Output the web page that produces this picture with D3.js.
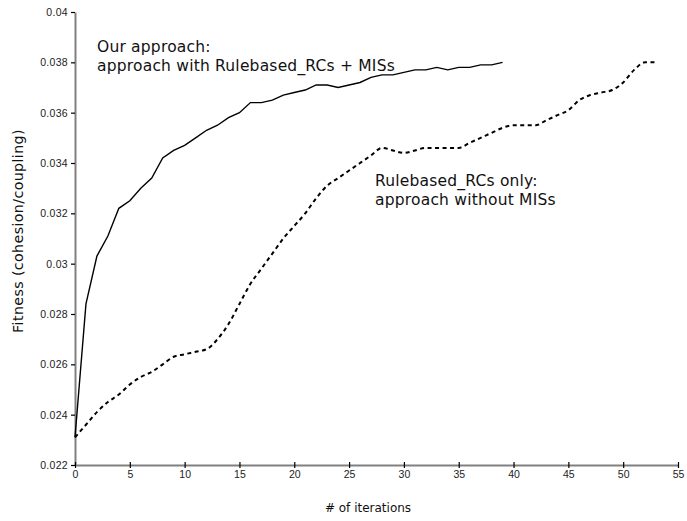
<!DOCTYPE html>
<html>
<head>
<meta charset="utf-8">
<script src="https://cdn.jsdelivr.net/npm/d3@7"></script>
<style>
  html, body { margin: 0; padding: 0; background: #fff; }
  svg { display: block; font-family: "DejaVu Sans", sans-serif; }
</style>
</head>
<body>
<svg id="chart" width="687" height="521"></svg>
<script>
// Fitness per iteration, "Our approach" (Rulebased_RCs + MISs)
const withMISs = [
  0.0231, 0.0284, 0.0303, 0.0311, 0.0322, 0.0325, 0.0330, 0.0334, 0.0342, 0.0345,
  0.0347, 0.0350, 0.0353, 0.0355, 0.0358, 0.0360, 0.0364, 0.0364, 0.0365, 0.0367,
  0.0368, 0.0369, 0.0371, 0.0371, 0.0370, 0.0371, 0.0372, 0.0374, 0.0375, 0.0375,
  0.0376, 0.0377, 0.0377, 0.0378, 0.0377, 0.0378, 0.0378, 0.0379, 0.0379, 0.0380
];
// Fitness per iteration, Rulebased_RCs only (without MISs)
const rulebasedOnly = [
  0.0231, 0.0236, 0.0241, 0.0245, 0.0248, 0.0252, 0.0255, 0.0257, 0.0260, 0.0263,
  0.0264, 0.0265, 0.0266, 0.0270, 0.0276, 0.0284, 0.0292, 0.0298, 0.0304, 0.0310,
  0.0315, 0.0320, 0.0326, 0.0331, 0.0334, 0.0337, 0.0340, 0.0343, 0.0346, 0.0345,
  0.0344, 0.0345, 0.0346, 0.0346, 0.0346, 0.0346, 0.0348, 0.0350, 0.0352, 0.0354,
  0.0355, 0.0355, 0.0355, 0.0357, 0.0359, 0.0361, 0.0365, 0.0367, 0.0368, 0.0369,
  0.0372, 0.0377, 0.0380, 0.0380
];
const xTicks = [0, 5, 10, 15, 20, 25, 30, 35, 40, 45, 50, 55];
const yTicks = [0.022, 0.024, 0.026, 0.028, 0.03, 0.032, 0.034, 0.036, 0.038, 0.04];
const labelOurs = ["Our approach:", "approach with Rulebased_RCs + MISs"];
const labelRules = ["Rulebased_RCs only:", "approach without MISs"];
const xTitle = "# of iterations";
const yTitle = "Fitness (cohesion/coupling)";

const svg = d3.select("#chart");
const x = d3.scaleLinear().domain([0, 55]).range([75, 678]);
const y = d3.scaleLinear().domain([0.022, 0.04]).range([465, 12]);

const axisColor = "#808080";

// y axis
const gy = svg.append("g").attr("transform", `translate(${x(0)},0)`)
  .call(d3.axisLeft(y).tickValues(yTicks).tickSize(4).tickSizeOuter(0)
    .tickFormat(d => String(+d.toFixed(3))));
gy.select(".domain").attr("stroke", axisColor).attr("stroke-width", 2);
gy.selectAll(".tick line").attr("stroke", "#000").attr("stroke-width", 1.2);
gy.selectAll(".tick text").attr("font-size", 10.5).attr("letter-spacing", 0.3)
  .attr("fill", "#222").attr("x", -7);

// x axis
const gx = svg.append("g").attr("transform", `translate(0,${y(0.022)})`)
  .call(d3.axisBottom(x).tickValues(xTicks).tickSize(3).tickSizeOuter(0));
gx.select(".domain").attr("stroke", axisColor).attr("stroke-width", 2);
gx.selectAll(".tick line").attr("stroke", "#000").attr("stroke-width", 1.2).attr("y1", -3);
gx.selectAll(".tick text").attr("font-size", 10.5).attr("fill", "#222").attr("y", 6);

// axis titles
svg.append("text").attr("x", 368).attr("y", 512).attr("text-anchor", "middle")
  .attr("font-size", 12).attr("fill", "#111").text(xTitle);
svg.append("text").attr("transform", `translate(23,231) rotate(-90)`)
  .attr("text-anchor", "middle").attr("font-size", 14.2).attr("letter-spacing", 0.4)
  .attr("fill", "#111").text(yTitle);

// series
const line = d3.line().x((d, i) => x(i)).y(d => y(d));
svg.append("path").datum(withMISs)
  .attr("d", line)
  .attr("fill", "none").attr("stroke", "#000").attr("stroke-width", 1.4);
svg.append("path").datum(rulebasedOnly)
  .attr("d", line.curve(d3.curveMonotoneX))
  .attr("fill", "none").attr("stroke", "#000").attr("stroke-width", 2)
  .attr("stroke-dasharray", "4,3.5");

// annotations
function block(lines, x0, y0) {
  const t = svg.append("text").attr("font-size", 15.5).attr("letter-spacing", 0.2)
    .attr("fill", "#111");
  lines.forEach((s, i) => t.append("tspan").attr("x", x0).attr("y", y0 + i * 19).text(s));
}
block(labelOurs, 97, 52);
block(labelRules, 375, 186);
</script>
</body>
</html>
